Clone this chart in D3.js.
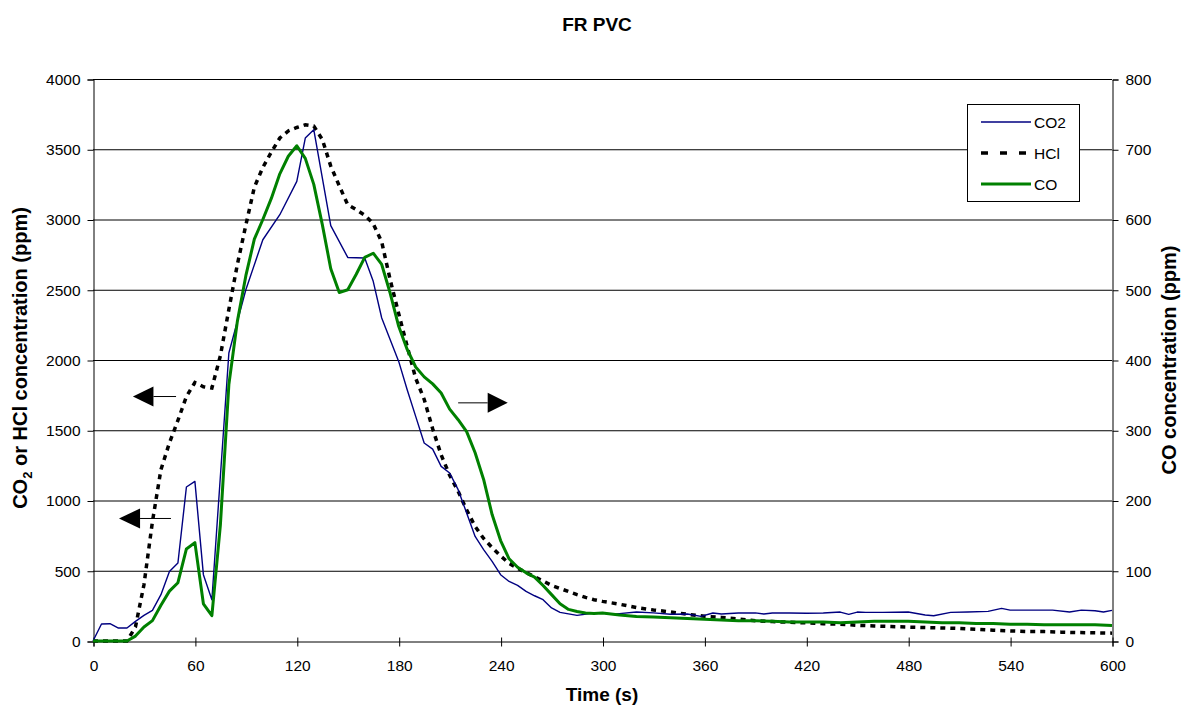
<!DOCTYPE html>
<html>
<head>
<meta charset="utf-8">
<script src="https://cdn.jsdelivr.net/npm/d3@7"></script>
<style>
  body { margin: 0; background: #fff; }
  text { font-family: "Liberation Sans", Arial, sans-serif; fill: #000; }
</style>
</head>
<body>
<svg id="chart" width="1183" height="707"></svg>
<script>
// time (s) and values
const co2Time = [0,5,10,15,20,25,30,35,40,45,50,55,60,65,70,80,90,100,110,120,125,130,140,150,160,165,170,175,180,185,190,195,200,205,210,215,220,225,230,235,240,245,250,255,260,265,270,275,285,295,300,305,310,320,330,340,350,358,365,370,380,390,395,400,410,420,430,440,445,450,455,465,480,490,495,505,515,527,535,540,550,565,575,582,590,595,600];
const co2 = [0,121,123,92,92,140,182,218,330,495,555,1096,1136,472,294,2050,2500,2856,3034,3271,3580,3639,2956,2730,2726,2560,2299,2144,1990,1788,1599,1409,1366,1243,1196,1077,911,744,650,567,472,424,396,353,322,294,235,204,182,199,199,190,195,206,200,190,192,175,199,192,199,200,192,199,199,198,199,206,190,206,204,204,206,185,180,204,206,211,232,220,220,220,206,220,215,206,218];

const hclTime = [0,5,10,15,20,25,30,35,40,45,50,55,60,65,70,75,80,85,90,95,100,105,110,115,120,125,130,135,140,145,150,155,160,165,170,175,180,185,190,195,200,205,210,215,220,225,230,235,240,245,250,255,260,265,270,275,280,285,290,295,300,310,320,330,340,350,360,370,380,390,400,410,420,430,440,450,460,470,480,490,500,510,520,530,540,550,560,570,580,590,600];
const hcl = [0,0,0,0,0,100,400,850,1220,1410,1570,1740,1840,1810,1800,2030,2360,2680,2960,3230,3370,3480,3580,3630,3655,3674,3665,3570,3380,3240,3105,3070,3030,2970,2840,2570,2330,2097,1870,1720,1510,1325,1180,1065,934,815,730,665,605,553,518,487,457,427,396,374,352,330,310,294,282,262,238,221,207,190,176,168,157,144,138,134,129,123,120,112,107,103,99,96,93,89,83,77,72,68,67,63,60,58,56];

const coTime = [0,5,10,15,20,25,30,35,40,45,50,55,60,65,70,75,80,85,90,95,100,105,110,115,120,125,130,135,140,145,150,155,160,165,170,175,180,185,190,195,200,205,210,215,220,225,230,235,240,245,250,255,260,265,270,275,280,285,290,295,300,310,320,330,340,350,360,370,380,390,400,410,420,430,440,450,460,470,480,490,500,510,520,530,540,550,560,570,580,590,600];
const co = [0,0,0,0,0,7,20,29,51,71,83,131,140,53,36,165,365,455,520,572,600,630,665,690,705,687,650,593,530,496,500,522,546,552,536,495,448,415,390,376,366,353,330,315,298,268,230,180,143,117,105,97,91,79,66,53,45,42,40,39,40,37,35,34,33,32,31,30,29,29,28,27,27,27,26,27,28,28,28,27,26,26,25,25,24,24,23,23,23,23,22];

const xTicks = [0,60,120,180,240,300,360,420,480,540,600];
const leftTicks = [0,500,1000,1500,2000,2500,3000,3500,4000];
const rightTicks = [0,100,200,300,400,500,600,700,800];

const seriesNames = ['CO2', 'HCl', 'CO'];

// arrows: [tip time, head base time, tail time, value, axis]
const arrows = [
    [23.5, 35.6, 48.9, 1740, 'left'],
    [15.3, 27.7, 45.9, 872, 'left'],
    [244.2, 232.4, 215, 339, 'right']
];

var svg = d3.select('#chart');

var x = d3.scaleLinear().domain([0, 600]).range([93, 1112]);
var yL = d3.scaleLinear().domain([0, 4000]).range([641, 79]);
var yR = d3.scaleLinear().domain([0, 800]).range([641, 79]);

var tickFont = 15.5;

// grid
svg.append('g')
    .selectAll('line')
    .data(leftTicks.slice(1))
    .enter()
    .append('line')
        .attr('x1', x(0)).attr('x2', x(600))
        .attr('y1', d => yL(d) + 0.5).attr('y2', d => yL(d) + 0.5)
        .attr('stroke', '#000')
        .attr('stroke-width', 1);

// left axis
var gl = svg.append('g').attr('transform', 'translate(' + (x(0) + 0.5) + ',0.5)')
    .call(d3.axisLeft(yL).tickValues(leftTicks).tickSize(6).tickPadding(7).tickFormat(d3.format('d')));

// right axis
var gr = svg.append('g').attr('transform', 'translate(' + (x(600) + 0.5) + ',0.5)')
    .call(d3.axisRight(yR).tickValues(rightTicks).tickSize(6).tickPadding(7).tickFormat(d3.format('d')));

// bottom axis, ticks cross the line
var gb = svg.append('g').attr('transform', 'translate(0.5,' + (yL(0) + 0.5) + ')')
    .call(d3.axisBottom(x).tickValues(xTicks).tickSize(5).tickPadding(13).tickFormat(d3.format('d')));
gb.selectAll('.tick line').attr('y1', -4);

svg.selectAll('.domain').attr('stroke', '#000');
svg.selectAll('.tick line').attr('stroke', '#000');
svg.selectAll('.tick text')
    .attr('font-family', '"Liberation Sans", Arial, sans-serif')
    .attr('font-size', tickFont)
    .attr('fill', '#000');

// lines
var lineL = (t) => d3.line().x((d, i) => x(t[i])).y(d => yL(d));
var lineR = (t) => d3.line().x((d, i) => x(t[i])).y(d => yR(d));

svg.append('path')
    .datum(hcl)
    .attr('d', lineL(hclTime))
    .attr('fill', 'none')
    .attr('stroke', '#000')
    .attr('stroke-width', 3.5)
    .attr('stroke-dasharray', '5,5');

svg.append('path')
    .datum(co2)
    .attr('d', lineL(co2Time))
    .attr('fill', 'none')
    .attr('stroke', '#000080')
    .attr('stroke-width', 1.4)
    .attr('stroke-linejoin', 'round');

svg.append('path')
    .datum(co)
    .attr('d', lineR(coTime))
    .attr('fill', 'none')
    .attr('stroke', '#008000')
    .attr('stroke-width', 3)
    .attr('stroke-linejoin', 'round');

// arrows
arrows.forEach(a => {
    var sc = a[4] == 'left' ? yL : yR;
    var yy = sc(a[3]);
    svg.append('line')
        .attr('x1', x(a[2])).attr('x2', x(a[1]))
        .attr('y1', yy).attr('y2', yy)
        .attr('stroke', '#000').attr('stroke-width', 1);
    svg.append('path')
        .attr('d', 'M' + x(a[0]) + ',' + yy + 'L' + x(a[1]) + ',' + (yy - 10) + 'L' + x(a[1]) + ',' + (yy + 10) + 'Z')
        .attr('fill', '#000');
});

// legend
var leg = svg.append('g').attr('transform', 'translate(967,104)');
leg.append('rect')
    .attr('x', 0.5).attr('y', 0.5)
    .attr('width', 112).attr('height', 97)
    .attr('fill', '#fff').attr('stroke', '#000');
var legStyle = [
    { c: '#000080', w: 1.4, dash: null },
    { c: '#000', w: 3.5, dash: '7,12' },
    { c: '#008000', w: 3, dash: null }
];
seriesNames.forEach((n, i) => {
    var ly = 18 + i * 31;
    leg.append('line')
        .attr('x1', 14).attr('x2', 64)
        .attr('y1', ly).attr('y2', ly)
        .attr('stroke', legStyle[i].c)
        .attr('stroke-width', legStyle[i].w)
        .attr('stroke-dasharray', legStyle[i].dash);
    leg.append('text')
        .attr('x', 67).attr('y', ly + 5.5)
        .attr('font-size', 15.5)
        .text(n);
});

// titles
svg.append('text')
    .attr('x', 597).attr('y', 31)
    .attr('text-anchor', 'middle')
    .attr('font-size', 19).attr('font-weight', 'bold')
    .text('FR PVC');

svg.append('text')
    .attr('x', 602).attr('y', 701)
    .attr('text-anchor', 'middle')
    .attr('font-size', 19).attr('font-weight', 'bold')
    .text('Time (s)');

var lt = svg.append('text')
    .attr('transform', 'translate(27,358) rotate(-90)')
    .attr('text-anchor', 'middle')
    .attr('font-size', 20).attr('font-weight', 'bold');
lt.append('tspan').text('CO');
lt.append('tspan').attr('font-size', 13).attr('dy', 5).text('2');
lt.append('tspan').attr('dy', -5).text(' or HCl concentration (ppm)');

svg.append('text')
    .attr('transform', 'translate(1176,360) rotate(-90)')
    .attr('text-anchor', 'middle')
    .attr('font-size', 20).attr('font-weight', 'bold')
    .text('CO concentration (ppm)');
</script>
</body>
</html>
